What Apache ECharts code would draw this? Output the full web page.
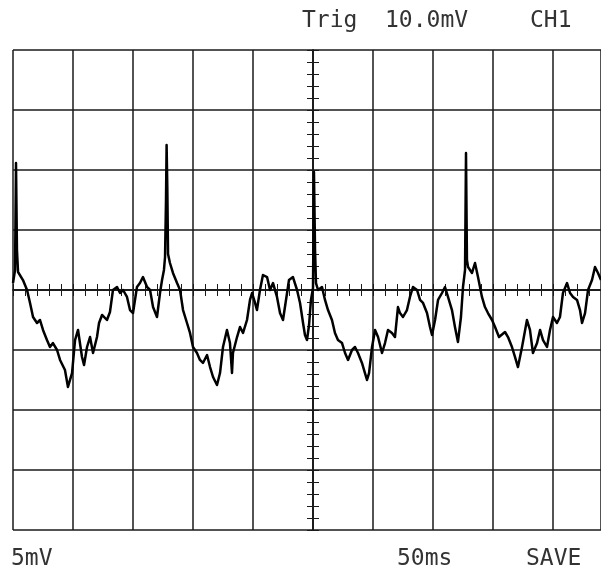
<!DOCTYPE html>
<html>
<head>
<meta charset="utf-8">
<script src="https://cdn.jsdelivr.net/npm/echarts@6/dist/echarts.min.js"></script>
<style>
  html, body { margin: 0; padding: 0; background: #fff; }
  #scope { width: 601px; height: 573px; }
</style>
</head>
<body>
<div id="scope"></div>
<script>
// trace: time in ms (50 ms/div), voltage in mV (5 mV/div)
var timeMs = [
  0, 1.7, 2.5, 3.3, 4.2, 5.8, 8.3, 11.7, 14.2, 16.7,
  20, 22.5, 25, 28.3, 30.8, 33.3, 36.7, 39.2, 43.3, 45.8,
  49.2, 51.7, 54.2, 57.5, 59.2, 61.7, 64.2, 66.7, 70, 71.7,
  74.2, 78.3, 80.8, 83.3, 86.7, 89.2, 91.7, 95, 97.5, 100,
  103.3, 105.8, 108.3, 111.7, 114.2, 116.7, 120, 122.5, 124.2, 125.8,
  126.7, 127.5, 128, 128.6, 129.2, 130.8, 133.3, 136.7, 139.2, 141.7,
  145, 147.5, 150, 153.3, 155.8, 158.3, 161.7, 164.2, 166.7, 170,
  172.5, 175, 178.3, 180.8, 182.5, 183.3, 186.7, 189.2, 191.7, 195,
  197.5, 199.2, 201.7, 203.3, 205.8, 208.3, 211.7, 214.2, 216.7, 220,
  222.5, 225, 227.5, 230, 233.3, 236.7, 239.2, 241.7, 243.3, 245,
  246.7, 248.3, 250, 250.8, 251.7, 252.5, 254.2, 257.5, 260, 262.5,
  265.8, 268.3, 270.8, 274.2, 276.7, 279.2, 282.5, 285, 287.5, 290.8,
  293.3, 295, 296.7, 299.2, 301.7, 304.2, 307.5, 310, 312.5, 315.8,
  318.3, 320.8, 322.5, 325, 328.3, 330.8, 333.3, 336.7, 339.2, 341.7,
  345, 347.5, 349.2, 351.7, 354.2, 357.5, 360, 362.5, 365.8, 368.3,
  370.8, 373.3, 375, 376.7, 377.5, 378.3, 379.2, 382.5, 385, 387.5,
  390.8, 393.3, 395.8, 399.2, 401.7, 405, 410, 412.5, 415.8, 418.3,
  420.8, 424.2, 428.3, 430.8, 433.3, 436.7, 439.2, 441.7, 445, 447.5,
  450, 453.3, 455.8, 458.3, 461.7, 464.2, 466.7, 470, 472.5, 474.2,
  476.7, 479.2, 482.5, 485, 487.5, 490
];
var voltMv = [
  0.58, 1.67, 10.58, 3.33, 1.5, 1.42, 0.83, 0, -1.08, -2.25,
  -2.75, -2.5, -3.33, -4.17, -4.75, -4.42, -5, -5.83, -6.67, -8.08,
  -6.92, -4.17, -3.33, -5.58, -6.25, -4.75, -3.92, -5.25, -3.92, -2.75,
  -2.08, -2.5, -1.83, 0, 0.25, -0.25, 0, -0.58, -1.67, -1.92,
  0.25, 0.58, 1.08, 0.25, 0, -1.42, -2.25, -0.25, 0.83, 1.67,
  2.75, 7.5, 12.08, 8.5, 3, 2.25, 1.42, 0.58, 0, -1.67,
  -2.75, -3.58, -4.75, -5.25, -5.83, -6.08, -5.42, -6.42, -7.25, -7.92,
  -6.92, -4.75, -3.33, -4.42, -6.92, -5.25, -3.92, -3.08, -3.58, -2.5,
  -0.83, -0.25, -1.08, -1.67, 0, 1.25, 1.08, 0, 0.58, -0.58,
  -1.92, -2.5, -0.83, 0.83, 1.08, 0, -1.08, -2.75, -3.75, -4.17,
  -2.92, -0.83, 0.17, 9.83, 3.33, 0.58, 0, 0.25, -0.83, -1.67,
  -2.5, -3.58, -4.17, -4.42, -5.25, -5.83, -5, -4.75, -5.25, -6.08,
  -6.92, -7.5, -6.92, -4.75, -3.33, -3.92, -5.25, -4.42, -3.33, -3.58,
  -3.92, -1.42, -1.92, -2.25, -1.67, -0.58, 0.25, 0, -0.83, -1.08,
  -1.92, -3.08, -3.75, -2.5, -0.83, -0.25, 0.25, -0.58, -1.67, -3.08,
  -4.33, -2.25, 0.25, 1.67, 11.42, 2.5, 1.92, 1.42, 2.25, 1.08,
  -0.58, -1.42, -1.92, -2.5, -3.08, -3.92, -3.5, -3.92, -4.75, -5.58,
  -6.42, -4.75, -2.5, -3.33, -5.25, -4.42, -3.33, -4.17, -4.75, -3.33,
  -2.25, -2.75, -2.25, -0.25, 0.58, -0.25, -0.58, -0.83, -1.67, -2.75,
  -1.92, 0, 0.83, 1.92, 1.42, 0.83
];

var topLabels = ['Trig', '10.0mV', 'CH1'];
var bottomLabels = ['5mV', '50ms', 'SAVE'];

var ink = '#1a1a1a';
var font = 'DejaVu Sans Mono';

var trace = [];
for (var i = 0; i < timeMs.length; i++) {
  trace.push([timeMs[i], voltMv[i]]);
}

function label(text, left, top) {
  return {
    text: text, left: left, top: top, padding: 0,
    textStyle: { fontFamily: font, fontSize: 23, fontWeight: 'normal', color: '#333' }
  };
}

// center axes with the small ticks: same rectangle, time measured from screen center
function centerX(pos) {
  return {
    gridIndex: 1, type: 'value', min: -250, max: 240, interval: 50, position: pos,
    axisLine: { show: true, onZero: true, lineStyle: { color: ink, width: 1.5 } },
    axisTick: { show: true, length: 6, lineStyle: { color: ink, width: 1 } },
    minorTick: { show: true, splitNumber: 5, length: 6, lineStyle: { color: ink, width: 1 } },
    axisLabel: { show: false }, splitLine: { show: false }
  };
}
function centerY(pos) {
  return {
    gridIndex: 1, type: 'value', min: -20, max: 20, interval: 5, position: pos,
    axisLine: { show: true, onZero: true, lineStyle: { color: ink, width: 1.5 } },
    axisTick: { show: true, length: 6, lineStyle: { color: ink, width: 1 } },
    minorTick: { show: true, splitNumber: 5, length: 6, lineStyle: { color: ink, width: 1 } },
    axisLabel: { show: false }, splitLine: { show: false }
  };
}

var chart = echarts.init(document.getElementById('scope'), null, { renderer: 'canvas' });
chart.setOption({
  animation: false,
  backgroundColor: '#fff',
  title: [
    label(topLabels[0], 302, 10),
    label(topLabels[1], 385, 10),
    label(topLabels[2], 530, 10),
    label(bottomLabels[0], 11, 548),
    label(bottomLabels[1], 397, 548),
    label(bottomLabels[2], 526, 548)
  ],
  grid: [
    { left: 13, top: 50, right: 0, height: 480 },
    { left: 13, top: 50, right: 0, height: 480 }
  ],
  xAxis: [
    {
      gridIndex: 0, type: 'value', min: 0, max: 490, interval: 50,
      axisLine: { show: false }, axisTick: { show: false }, axisLabel: { show: false },
      splitLine: { show: true, lineStyle: { color: ink, width: 1.5 } }
    },
    centerX('bottom'),
    centerX('top')
  ],
  yAxis: [
    {
      gridIndex: 0, type: 'value', min: -20, max: 20, interval: 5,
      axisLine: { show: false }, axisTick: { show: false }, axisLabel: { show: false },
      splitLine: { show: true, lineStyle: { color: ink, width: 1.5 } }
    },
    centerY('left'),
    centerY('right')
  ],
  series: [
    {
      type: 'line', xAxisIndex: 0, yAxisIndex: 0,
      data: trace, showSymbol: false, symbol: 'none', clip: true,
      lineStyle: { color: '#000', width: 2.5, join: 'round' }
    }
  ]
});
</script>
</body>
</html>
